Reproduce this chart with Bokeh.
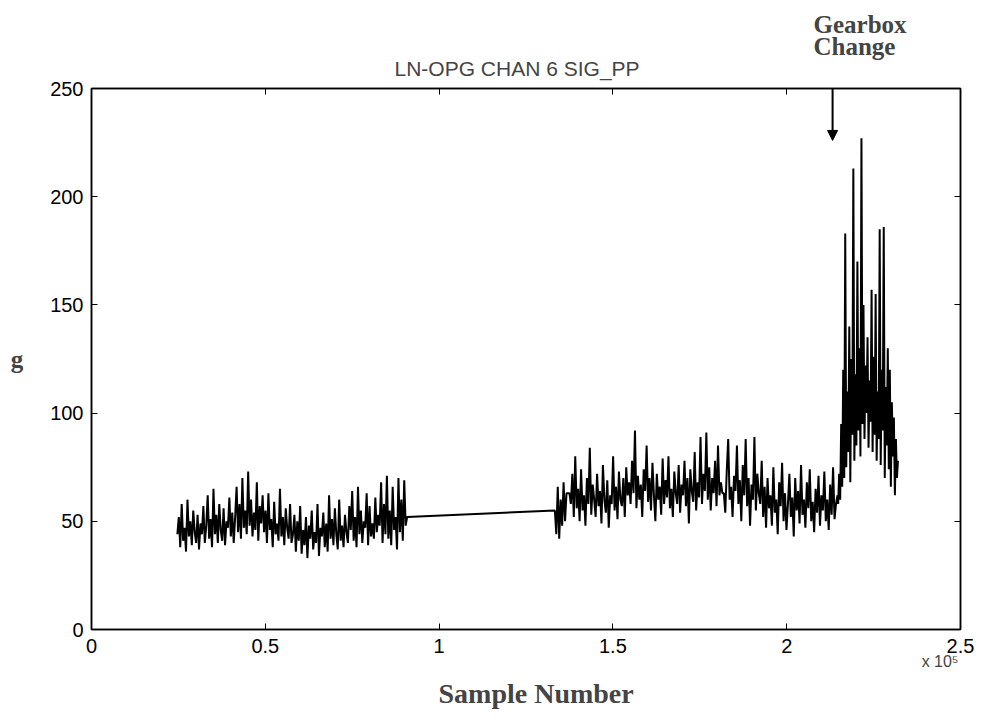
import numpy as np
from bokeh.plotting import figure
from bokeh.models import Range1d, FixedTicker, LinearAxis, Title, Arrow, NormalHead
from bokeh.embed import file_html
from bokeh.resources import INLINE

# ---- data ----
seg1_start, seg1_end = 24700, 90800
seg1_vals = [44, 52, 38, 58, 41, 47, 36, 60, 43, 50, 39, 55, 45, 40, 53, 37, 49, 44, 57, 40,
             48, 62, 42, 51, 38, 65, 44, 53, 40, 58, 46, 41, 56, 39, 50, 47, 61, 43, 54, 40,
             52, 66, 45, 58, 42, 70, 47, 55, 44, 73, 48, 60, 43, 54, 46, 68, 41, 57, 49, 62,
             45, 55, 40, 63, 46, 51, 38, 59, 44, 49, 41, 65, 43, 52, 39, 56, 47, 42, 58, 40,
             44, 53, 36, 50, 41, 57, 35, 46, 39, 52, 33, 48, 42, 55, 37, 45, 40, 58, 34, 47,
             43, 54, 38, 49, 36, 62, 42, 51, 39, 56, 44, 37, 60, 41, 48, 38, 53, 45, 40, 57,
             46, 64, 41, 52, 38, 66, 44, 55, 40, 50, 47, 63, 39, 57, 43, 49, 42, 61, 45, 53,
             48, 68, 40, 58, 44, 71, 42, 55, 39, 66, 46, 52, 37, 70, 45, 60, 41, 69, 48, 52]

seg2_start, seg2_end = 133300, 214600
seg2_vals = [55, 44, 66, 42, 60, 48, 68, 50, 63,
             63, 63, 58, 72, 52, 80, 56,
             65, 50, 74, 55, 62, 48, 70, 58, 84, 53, 67, 60,
             52, 72, 57, 64, 49, 76, 60, 54, 69, 47, 62, 58,
             80, 55, 66, 51, 73, 60, 57, 70, 52, 75, 62, 68,
             58, 78, 63, 92, 56, 71, 60, 67, 52, 74, 64, 85,
             59, 70, 55, 77, 62, 50, 72, 60, 66, 53, 79, 58,
             69, 61, 80, 56, 65, 52, 73, 63, 58, 76, 54, 67,
             62, 78, 57, 70, 49, 74, 64, 59, 82, 55, 68, 61,
             89, 58, 72, 64, 91, 60, 75, 55, 70, 63, 78, 57,
             85, 62, 68, 63, 63, 54, 73, 88, 60, 66, 52, 71,
             64, 85, 58, 69, 50, 76, 62, 88, 57, 70, 48, 67,
             60, 89, 55, 72, 63, 58, 78, 52, 66, 47, 70, 56,
             62, 48, 75, 54, 60, 44, 68, 57, 77, 50, 63, 46,
             58, 72, 52, 61, 43, 70, 55, 64, 49, 76, 53, 60,
             47, 68, 56, 74, 50, 59, 45, 65, 54, 71, 48, 62,
             55, 73, 50, 60, 46, 67, 53, 75, 51, 58, 62]

seg3_start, seg3_end = 214800, 232000
seg3_vals = [58, 72, 60, 95, 66, 120, 70, 183, 75, 110,
             82, 140, 68, 125, 90, 213, 78, 118, 85, 170,
             92, 130, 80, 227, 95, 150, 88, 122, 100, 135,
             84, 115, 96, 157, 82, 126, 90, 155, 78, 110,
             88, 185, 76, 120, 92, 186, 70, 112, 85, 130,
             74, 120, 66, 105, 80, 98, 62, 88, 70, 78]

x_ticks = [0, 50000, 100000, 150000, 200000, 250000]
x_tick_labels = ["0", "0.5", "1", "1.5", "2", "2.5"]
y_ticks = [0, 50, 100, 150, 200, 250]

title_text = "LN-OPG CHAN 6 SIG_PP"
xlabel_text = "Sample Number"
ylabel_text = "g"
scale_text = "x 10\u2075"
annot_lines = ["Gearbox", "Change"]
arrow_x = 213200
arrow_y = [250, 226]

# sample positions of each recorded block
xs = np.concatenate([np.linspace(seg1_start, seg1_end, len(seg1_vals)),
                     np.linspace(seg2_start, seg2_end, len(seg2_vals)),
                     np.linspace(seg3_start, seg3_end, len(seg3_vals))])
ys = np.array(seg1_vals + seg2_vals + seg3_vals, dtype=float)

p = figure(width=984, height=719, output_backend="svg", toolbar_location=None,
           x_range=Range1d(0, 250000), y_range=Range1d(0, 250),
           min_border_left=91, min_border_right=24, min_border_top=88, min_border_bottom=89)
p.title = None
p.grid.visible = False
p.background_fill_color = "white"
p.border_fill_color = "white"
p.outline_line_color = "black"
p.outline_line_width = 1.5

p.line(xs, ys, line_color="black", line_width=2.0)

def style_axis(ax):
    ax.axis_line_color = "black"
    ax.axis_line_width = 1.5
    ax.major_tick_in = 6
    ax.major_tick_out = 0
    ax.minor_tick_line_color = None
    ax.major_tick_line_color = "black"
    ax.major_label_text_font = "Liberation Sans"
    ax.major_label_text_font_size = "20px"
    ax.major_label_text_color = "black"

xa = p.xaxis[0]
xa.ticker = FixedTicker(ticks=x_ticks)
xa.major_label_overrides = {t: l for t, l in zip(x_ticks, x_tick_labels)}
xa.major_label_standoff = 9
style_axis(xa)

ya = p.yaxis[0]
ya.ticker = FixedTicker(ticks=y_ticks)
ya.major_label_standoff = 8
style_axis(ya)
ya.axis_label = ylabel_text
ya.axis_label_orientation = "horizontal"
ya.axis_label_text_font = "Liberation Serif"
ya.axis_label_text_font_style = "bold"
ya.axis_label_text_font_size = "25px"
ya.axis_label_standoff = 24

top = LinearAxis(ticker=FixedTicker(ticks=x_ticks))
style_axis(top)
top.major_label_overrides = {t: "" for t in x_ticks}
top.major_label_standoff = 0
p.add_layout(top, "above")
right = LinearAxis(ticker=FixedTicker(ticks=y_ticks))
style_axis(right)
right.major_label_overrides = {t: "" for t in y_ticks}
right.major_label_standoff = 0
p.add_layout(right, "right")

p.add_layout(Title(text=title_text, align="left", offset=303, text_font="Liberation Sans",
                   text_font_style="normal", text_font_size="21px", standoff=17), "above")
p.add_layout(Title(text=annot_lines[1], align="left", offset=722, text_font="Liberation Serif",
                   text_font_style="bold", text_font_size="25px", standoff=-26), "above")
p.add_layout(Title(text=annot_lines[0], align="left", offset=722, text_font="Liberation Serif",
                   text_font_style="bold", text_font_size="25px", standoff=11), "above")

p.add_layout(Title(text=scale_text, align="right", offset=2, text_font="Liberation Sans",
                   text_font_style="normal", text_font_size="16px", standoff=-9), "below")
p.add_layout(Title(text=xlabel_text, align="left", offset=347, text_font="Liberation Serif",
                   text_font_style="bold", text_font_size="28px", standoff=21), "below")

p.add_layout(Arrow(end=NormalHead(size=10, fill_color="black", line_color="black"),
                   x_start=arrow_x, y_start=arrow_y[0], x_end=arrow_x, y_end=arrow_y[1],
                   line_color="black", line_width=2))

open("out.html", "w").write(file_html(p, INLINE))
